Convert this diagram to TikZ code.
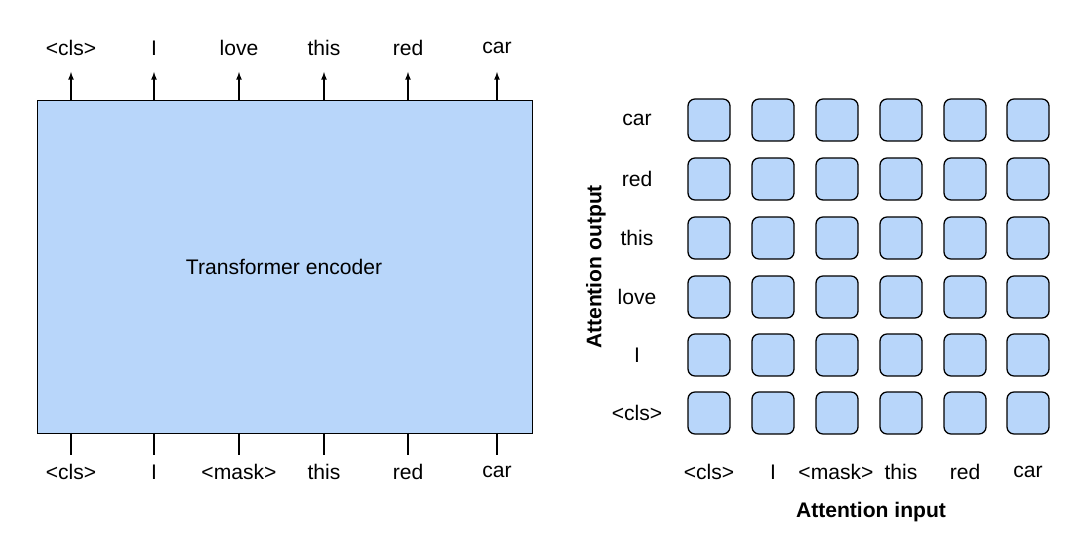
\documentclass[tikz,border=0pt]{standalone}
\usepackage{fontspec}
\setmainfont{Liberation Sans}
\definecolor{encblue}{HTML}{B8D6FA}
\tikzset{
	cell/.style={draw=black, fill=encblue, rounded corners=5pt, minimum size=1.05cm, line width=0.9pt},
	tok/.style={font=\fontsize{15}{18}\selectfont, inner sep=0pt},
}
\begin{document}
\begin{tikzpicture}[x=0.025cm, y=-0.025cm]
	\useasboundingbox (0,0) rectangle (1080,550);
	%encoder block
	\node[draw, fill=encblue, line width=0.9pt, minimum width=12.375cm, minimum height=8.325cm, anchor=north west, inner sep=0pt] (enc) at (37,100) {};
	\node[tok] (enclabel) at (284,267) {Transformer encoder};
	%tokens in and out
	\foreach \x/\w/\o [count=\i] in {71/<cls>/<cls>, 154/I/I, 239/<mask>/love, 324/this/this, 408/red/red, 497/car/car} {
		\coordinate (top\i) at (\x,100);
		\coordinate (bot\i) at (\x,433);
		\node[tok] (out\i) at (\x,48) {\o};
		\node[tok] (in\i) at (\x,472) {\w};
		\draw[line width=0.9pt, -latex] (top\i) -- ++(0,-28);
		\draw[line width=0.9pt] (bot\i) -- ++(0,22);
	}
	%attention grid
	\foreach \x [count=\i] in {709,773,837,901,965,1028} {
		\foreach \y [count=\j] in {413,355,297,238,179,120} {
			\node[cell] (c\i\j) at (\x,\y) {};
		}
	}
	%row and column labels
	\foreach \y/\t [count=\j] in {413/<cls>, 355/I, 297/love, 238/this, 179/red, 120/car} {
		\node[tok] (row\j) at (637,\y) {\t};
	}
	\foreach \x/\t [count=\i] in {709/<cls>, 773/I, 836/<mask>, 901/this, 965/red, 1028/car} {
		\node[tok] (col\i) at (\x,472) {\t};
	}
	\node[tok, font=\fontsize{15}{18}\selectfont\bfseries] (xlabel) at (871,512) {Attention input};
	\node[tok, font=\fontsize{15}{18}\selectfont\bfseries, rotate=90] (ylabel) at (596,267) {Attention output};
\end{tikzpicture}
\end{document}
